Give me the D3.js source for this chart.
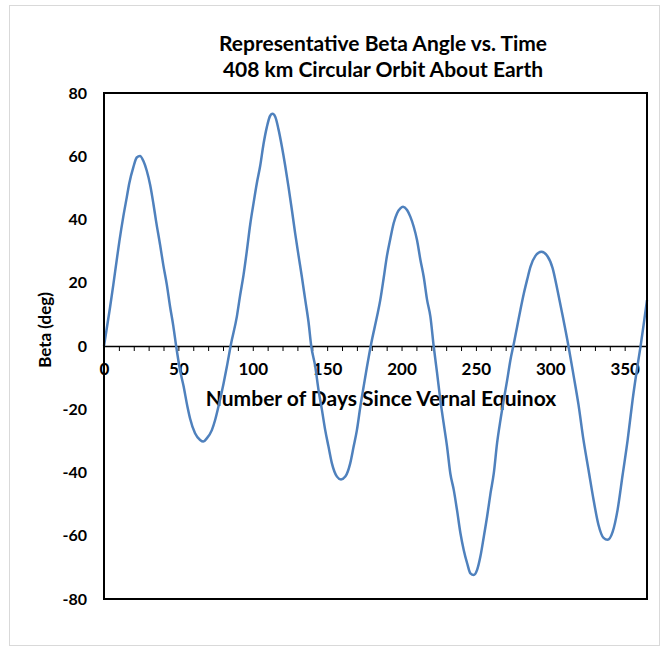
<!DOCTYPE html>
<html><head><meta charset="utf-8">
<script src="https://cdn.jsdelivr.net/npm/d3@7"></script>
<style>
html,body{margin:0;padding:0;background:#fff;}
text{font-family:Lato,"Open Sans",sans-serif;font-weight:bold;fill:#000;}
</style></head>
<body><svg id="chart" width="667" height="647"></svg>
<script>
const titleLines = ["Representative Beta Angle vs. Time", "408 km Circular Orbit About Earth"];
const xTitle = "Number of Days Since Vernal Equinox";
const yTitle = "Beta (deg)";
const xTickLabels = [0, 50, 100, 150, 200, 250, 300, 350];
const yTickLabels = [80, 60, 40, 20, 0, -20, -40, -60, -80];

const days = [0,4.0,6.3,8.5,10.3,13.0,15.3,17.0,19.7,22.0,24.2,26.5,28.7,31.0,33.2,35.0,37.7,39.9,42.2,44.4,46.6,48.5,
51.1,53.4,56.1,57.9,61.2,64.6,66.8,69.1,72.5,74.7,76.9,80.3,82.6,85.3,89.3,91.5,93.8,96.0,98.3,100.5,102.7,105.0,107.2,
109.5,111.7,113.3,115.1,117.3,119.6,121.8,124.0,126.3,128.5,130.8,133.0,135.3,137.5,139.3,142.0,144.2,146.5,148.7,150.9,
153.2,156.6,159.3,162.2,165.5,167.8,170.0,172.3,174.5,176.8,179.5,183.5,185.7,188.0,190.2,192.5,194.7,197.0,199.2,201.0,
203.7,205.9,208.2,210.4,212.7,214.9,217.2,219.4,221.6,223.9,226.1,228.3,230.6,232.8,235.1,237.3,239.6,241.8,244.1,246.3,
248.5,250.8,253.0,255.3,257.5,259.8,262.0,264.2,266.5,268.7,271.0,273.2,275.5,277.7,279.9,282.2,284.4,286.7,290.0,294.0,
298.1,301.5,304.8,308.2,312.2,315.6,319.0,322.3,325.7,329.1,332.4,335.8,338.5,341.9,345.2,348.6,352.0,355.3,358.7,360.7,
362.7,365.0];
const beta = [0,12.0,19.5,27.0,33.0,41.0,47.0,51.5,56.5,59.6,60.1,58.5,55.5,51.0,45.0,39.5,32.0,25.5,19.5,12.5,6.3,0,
-7.6,-12.5,-19.2,-23.0,-27.6,-29.7,-30.2,-29.2,-26.6,-23.4,-19.2,-12.0,-6.5,0.5,9.3,16.0,22.5,30.0,38.5,45.1,51.4,57.0,63.8,
69.3,72.8,73.4,72.5,68.5,63.0,57.0,50.4,43.0,35.6,28.5,21.9,14.5,7.5,0,-6.5,-13.9,-20.2,-26.6,-31.8,
-37.1,-41.3,-42.2,-41.3,-37.1,-31.8,-26.6,-19.2,-12.9,-6.5,0.5,9.3,14.5,21.5,28.5,34.0,38.8,42.0,43.5,44.0,
43.0,40.9,37.7,33.5,27.2,21.9,14.5,9.3,0,-8.6,-17.1,-24.4,-31.8,-40.3,-45.5,-51.9,-59.2,-64.5,-68.7,-71.9,
-72.4,-70.8,-66.6,-60.3,-54.0,-46.6,-40.3,-30.8,-23.4,-17.1,-10.8,-4.4,0.8,6.1,11.4,16.6,20.9,25.1,28.5,29.8,
28.4,24.7,17.7,9.8,0,-9.2,-18.7,-29.7,-39.2,-48.7,-56.6,-60.7,-61.3,-58.8,-51.9,-40.8,-29.7,-17.1,-6.0,0,
6.6,14.5];

const svg = d3.select("#chart");
const plot = {left: 104, right: 647, top: 93, bottom: 599};

// outer chart frame
svg.append("rect").attr("x", 9.5).attr("y", 5.5).attr("width", 650).attr("height", 640)
  .attr("fill", "#fff").attr("stroke", "#d9d9d9").attr("stroke-width", 1);

const x = d3.scaleLinear().domain([0, 365]).range([plot.left, plot.right]);
const y = d3.scaleLinear().domain([-80, 80]).range([plot.bottom, plot.top]);

// title
svg.append("text").attr("x", 383).attr("y", 51).attr("text-anchor", "middle")
  .style("font-size", "21px").text(titleLines[0]);
svg.append("text").attr("x", 383).attr("y", 77).attr("text-anchor", "middle")
  .style("font-size", "21px").text(titleLines[1]);

// y axis labels
const yAxis = d3.axisLeft(y).tickValues(yTickLabels).tickSize(0).tickPadding(17)
  .tickFormat(d => String(d));
const gy = svg.append("g").attr("transform", `translate(${plot.left},0)`).call(yAxis);
gy.select(".domain").remove();
gy.selectAll("text").style("font-family", "Lato, sans-serif").style("font-size", "16px").style("font-weight", "bold")
  .attr("fill", "#000");

// x axis at zero
const minorTicks = d3.range(0, 361, 10);
const xAxis = d3.axisBottom(x).tickValues(minorTicks).tickSizeInner(5).tickSizeOuter(0).tickPadding(12)
  .tickFormat(d => xTickLabels.includes(d) ? String(d) : "");
const gx = svg.append("g").attr("transform", `translate(0,${y(0)})`).call(xAxis);
gx.select(".domain").attr("stroke", "#000").attr("stroke-width", 1.5);
gx.selectAll(".tick line").attr("stroke", "#000").attr("stroke-width", 1);
gx.selectAll("text").style("font-family", "Lato, sans-serif").style("font-size", "17px").style("font-weight", "bold")
  .attr("fill", "#000").attr("dy", "0.3em").attr("y", 24);

// x axis title
svg.append("text").attr("x", 381).attr("y", 406).attr("text-anchor", "middle")
  .style("font-size", "21px").text(xTitle);

// y axis title
svg.append("text").attr("transform", "translate(51,330) rotate(-90)").attr("text-anchor", "middle")
  .style("font-size", "17px").text(yTitle);

// line
const line = d3.line().x((d, i) => x(days[i])).y((d, i) => y(beta[i])).curve(d3.curveMonotoneX);
svg.append("path").datum(beta).attr("d", line).attr("fill", "none")
  .attr("stroke", "#4f81bd").attr("stroke-width", 2.5).attr("stroke-linejoin", "round");

// plot border
svg.append("rect").attr("x", plot.left).attr("y", plot.top)
  .attr("width", plot.right - plot.left).attr("height", plot.bottom - plot.top)
  .attr("fill", "none").attr("stroke", "#000").attr("stroke-width", 2);
</script></body></html>
